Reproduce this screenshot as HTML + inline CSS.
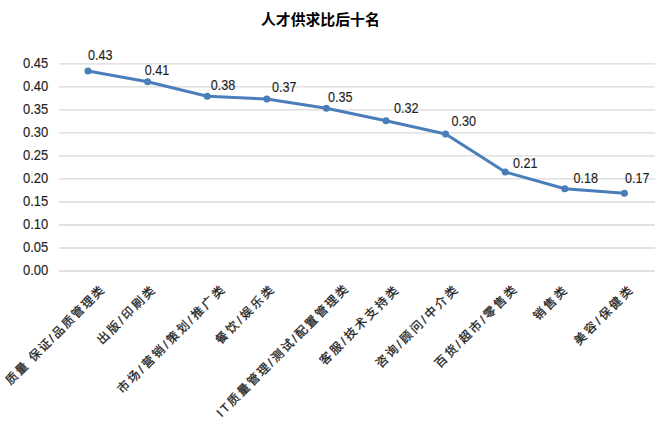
<!DOCTYPE html>
<html><head><meta charset="utf-8"><title>chart</title>
<style>
html,body{margin:0;padding:0;background:#fff;}
body{width:661px;height:421px;overflow:hidden;font-family:"Liberation Sans",sans-serif;}
svg{display:block;}
.n{font-family:"Liberation Sans",sans-serif;font-size:14px;fill:#1f1f1f;letter-spacing:0px;stroke:#1f1f1f;stroke-width:0.15px;}
.d{letter-spacing:0.15px;}
.t{font-family:"Liberation Sans","Noto Sans CJK SC",sans-serif;font-size:14.85px;font-weight:bold;fill:#000000;}
.c{font-family:"Liberation Sans","Noto Sans CJK SC",sans-serif;font-size:12px;fill:#1f1f1f;stroke:#1f1f1f;stroke-width:0.3px;}
</style></head><body>
<svg width="661" height="421" viewBox="0 0 661 421">
<rect x="0" y="0" width="661" height="421" fill="#ffffff"/>
<line x1="59" y1="63.85" x2="655" y2="63.85" stroke="#d9d9d9" stroke-width="1.33"/>
<line x1="59" y1="86.87" x2="655" y2="86.87" stroke="#d9d9d9" stroke-width="1.33"/>
<line x1="59" y1="109.89" x2="655" y2="109.89" stroke="#d9d9d9" stroke-width="1.33"/>
<line x1="59" y1="132.91" x2="655" y2="132.91" stroke="#d9d9d9" stroke-width="1.33"/>
<line x1="59" y1="155.93" x2="655" y2="155.93" stroke="#d9d9d9" stroke-width="1.33"/>
<line x1="59" y1="178.95" x2="655" y2="178.95" stroke="#d9d9d9" stroke-width="1.33"/>
<line x1="59" y1="201.97" x2="655" y2="201.97" stroke="#d9d9d9" stroke-width="1.33"/>
<line x1="59" y1="224.99" x2="655" y2="224.99" stroke="#d9d9d9" stroke-width="1.33"/>
<line x1="59" y1="248.01" x2="655" y2="248.01" stroke="#d9d9d9" stroke-width="1.33"/>
<line x1="59" y1="271.03" x2="655" y2="271.03" stroke="#d9d9d9" stroke-width="1.33"/>
<text transform="translate(48.2 67.95) scale(0.927 1)" text-anchor="end" class="n">0.45</text>
<text transform="translate(48.2 90.97) scale(0.927 1)" text-anchor="end" class="n">0.40</text>
<text transform="translate(48.2 113.99) scale(0.927 1)" text-anchor="end" class="n">0.35</text>
<text transform="translate(48.2 137.01) scale(0.927 1)" text-anchor="end" class="n">0.30</text>
<text transform="translate(48.2 160.03) scale(0.927 1)" text-anchor="end" class="n">0.25</text>
<text transform="translate(48.2 183.05) scale(0.927 1)" text-anchor="end" class="n">0.20</text>
<text transform="translate(48.2 206.07) scale(0.927 1)" text-anchor="end" class="n">0.15</text>
<text transform="translate(48.2 229.09) scale(0.927 1)" text-anchor="end" class="n">0.10</text>
<text transform="translate(48.2 252.11) scale(0.927 1)" text-anchor="end" class="n">0.05</text>
<text transform="translate(48.2 275.13) scale(0.927 1)" text-anchor="end" class="n">0.00</text>
<polyline points="88,71 147.6,81.8 207.2,96.3 266.8,99 326.4,108.2 386,120.8 445.6,134 505.2,172 564.8,188.7 624.4,193.3" fill="none" stroke="#4a7ebb" stroke-width="3" stroke-linejoin="round" stroke-linecap="round"/>
<circle cx="88" cy="71" r="3.5" fill="#4a7ebb"/>
<circle cx="147.6" cy="81.8" r="3.5" fill="#4a7ebb"/>
<circle cx="207.2" cy="96.3" r="3.5" fill="#4a7ebb"/>
<circle cx="266.8" cy="99" r="3.5" fill="#4a7ebb"/>
<circle cx="326.4" cy="108.2" r="3.5" fill="#4a7ebb"/>
<circle cx="386" cy="120.8" r="3.5" fill="#4a7ebb"/>
<circle cx="445.6" cy="134" r="3.5" fill="#4a7ebb"/>
<circle cx="505.2" cy="172" r="3.5" fill="#4a7ebb"/>
<circle cx="564.8" cy="188.7" r="3.5" fill="#4a7ebb"/>
<circle cx="624.4" cy="193.3" r="3.5" fill="#4a7ebb"/>
<text transform="translate(88 59.8) scale(0.9 1)" class="n">0.43</text>
<text transform="translate(144.8 75.4) scale(0.9 1)" class="n">0.41</text>
<text transform="translate(210.7 89.5) scale(0.9 1)" class="n">0.38</text>
<text transform="translate(271.9 92.2) scale(0.9 1)" class="n">0.37</text>
<text transform="translate(327.9 101.7) scale(0.9 1)" class="n">0.35</text>
<text transform="translate(394.1 112.6) scale(0.9 1)" class="n">0.32</text>
<text transform="translate(451.5 125.7) scale(0.9 1)" class="n">0.30</text>
<text transform="translate(512.9 167.7) scale(0.9 1)" class="n">0.21</text>
<text transform="translate(573.4 183.1) scale(0.9 1)" class="n">0.18</text>
<text transform="translate(625.1 183.1) scale(0.9 1)" class="n">0.17</text>
<text x="261" y="24.75" class="t">人才供求比后十名</text>
<g>
<text class="c" transform="translate(10.4 385.5) rotate(-45)" textLength="133.4" lengthAdjust="spacing">质量 保证/品质管理类</text>
<text class="c" transform="translate(102 344.9) rotate(-45)" textLength="75.7" lengthAdjust="spacing">出版/印刷类</text>
<text class="c" transform="translate(122.3 394) rotate(-45)" textLength="145.6" lengthAdjust="spacing">市场/营销/策划/推广类</text>
<text class="c" transform="translate(220.6 344.9) rotate(-45)" textLength="76.2" lengthAdjust="spacing">餐饮/娱乐类</text>
<text class="c" transform="translate(221.6 417.4) rotate(-45)" textLength="179.7" lengthAdjust="spacing">IT质量管理/测试/配置管理类</text>
<text class="c" transform="translate(324.6 365.7) rotate(-45)" textLength="105.1" lengthAdjust="spacing">客服/技术支持类</text>
<text class="c" transform="translate(380.7 368.5) rotate(-45)" textLength="109.7" lengthAdjust="spacing">咨询/顾问/中介类</text>
<text class="c" transform="translate(439.7 368.5) rotate(-45)" textLength="109.8" lengthAdjust="spacing">百货/超市/零售类</text>
<text class="c" transform="translate(538.3 321) rotate(-45)" textLength="41.3" lengthAdjust="spacing">销售类</text>
<text class="c" transform="translate(579 345.7) rotate(-45)" textLength="76.6" lengthAdjust="spacing">美容/保健类</text>
</g>
</svg>
</body></html>
